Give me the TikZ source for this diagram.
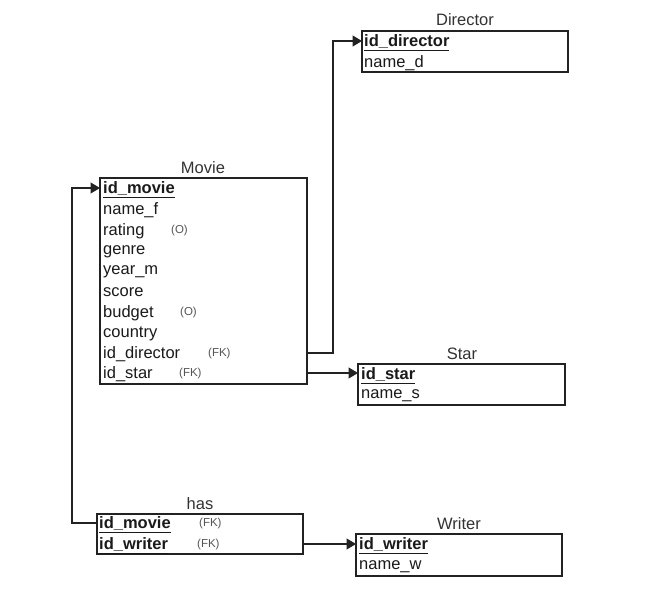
\documentclass[tikz,border=0pt]{standalone}
\usepackage{fontspec}
\setmainfont{Liberation Sans}
\usetikzlibrary{arrows.meta}
\definecolor{edge}{HTML}{222222}
\definecolor{titlegray}{HTML}{333333}
\definecolor{notegray}{HTML}{555555}
\definecolor{fieldtext}{HTML}{1A1A1A}
\tikzset{
  tablebox/.style={draw=edge, line width=1.2pt, fill=white},
  tabletitle/.style={anchor=base, inner sep=0pt, text=titlegray, font=\fontsize{16.5}{18}\selectfont},
  field/.style={anchor=west, inner sep=0pt, yshift=-2pt, text=fieldtext, font=\fontsize{16.5}{18}\selectfont},
  keyfield/.style={field, font=\fontsize{16.5}{18}\selectfont\bfseries},
  note/.style={anchor=west, inner sep=0pt, yshift=-1.5pt, text=notegray, font=\fontsize{11.5}{13}\selectfont},
  link/.style={draw=edge, line width=1.2pt, -{Triangle[length=9.5pt,width=11pt]}},
}
\newcommand{\ukey}[1]{\underline{#1}}
\begin{document}
\begin{tikzpicture}[x=1pt, y=-1pt]
\useasboundingbox (0,0) rectangle (668,612);
\fill[white] (0,0) rectangle (668,612);

% ---------- Director ----------
\node[tabletitle] (dirT) at (465,26) {Director};
\draw[tablebox] (362,31) rectangle (568,72);
\coordinate (dirIn) at (362,41);
\node[keyfield] (dir1) at (364,41) {\ukey{id\_director}};
\node[field] (dir2) at (364,61) {name\_d};

% ---------- Movie ----------
\node[tabletitle] (movT) at (203,174) {Movie};
\draw[tablebox] (100,178) rectangle (307,384);
\coordinate (movIn) at (100,188);
\coordinate (movDir) at (307,353);
\coordinate (movStar) at (307,373);
\node[keyfield] (m1) at (103,188) {\ukey{id\_movie}};
\node[field] (m2) at (103,208.5) {name\_f};
\node[field] (m3) at (103,229) {rating};
\node[note]  (m3n) at (171,229) {(O)};
\node[field] (m4) at (103,249.5) {genre};
\node[field] (m5) at (103,270) {year\_m};
\node[field] (m6) at (103,290.5) {score};
\node[field] (m7) at (103,311) {budget};
\node[note]  (m7n) at (180,311) {(O)};
\node[field] (m8) at (103,331.5) {country};
\node[field] (m9) at (103,352) {id\_director};
\node[note]  (m9n) at (208,352) {(FK)};
\node[field] (m10) at (103,372.5) {id\_star};
\node[note]  (m10n) at (179,372.5) {(FK)};

% ---------- Star ----------
\node[tabletitle] (starT) at (462,359) {Star};
\draw[tablebox] (358,364) rectangle (565,405);
\coordinate (starIn) at (358,373);
\node[keyfield] (s1) at (361,374) {\ukey{id\_star}};
\node[field] (s2) at (361,394) {name\_s};

% ---------- has ----------
\node[tabletitle] (hasT) at (200,509) {has};
\draw[tablebox] (97,514) rectangle (303,554);
\coordinate (hasMov) at (97,523);
\coordinate (hasWri) at (303,544);
\node[keyfield] (h1) at (99,523) {\ukey{id\_movie}};
\node[note]  (h1n) at (199,522) {(FK)};
\node[keyfield] (h2) at (99,543.5) {\ukey{id\_writer}};
\node[note]  (h2n) at (197,543) {(FK)};

% ---------- Writer ----------
\node[tabletitle] (wriT) at (459,529.5) {Writer};
\draw[tablebox] (356,534) rectangle (562,576);
\coordinate (wriIn) at (356,544);
\node[keyfield] (w1) at (359,544) {\ukey{id\_writer}};
\node[field] (w2) at (359,564.5) {name\_w};

% ---------- relations ----------
\draw[link] (movDir) -- (333,353) -- (333,41) -- (dirIn);
\draw[link] (movStar) -- (starIn);
\draw[link] (hasMov) -- (72,523) -- (72,188) -- (movIn);
\draw[link] (hasWri) -- (wriIn);
\end{tikzpicture}
\end{document}
